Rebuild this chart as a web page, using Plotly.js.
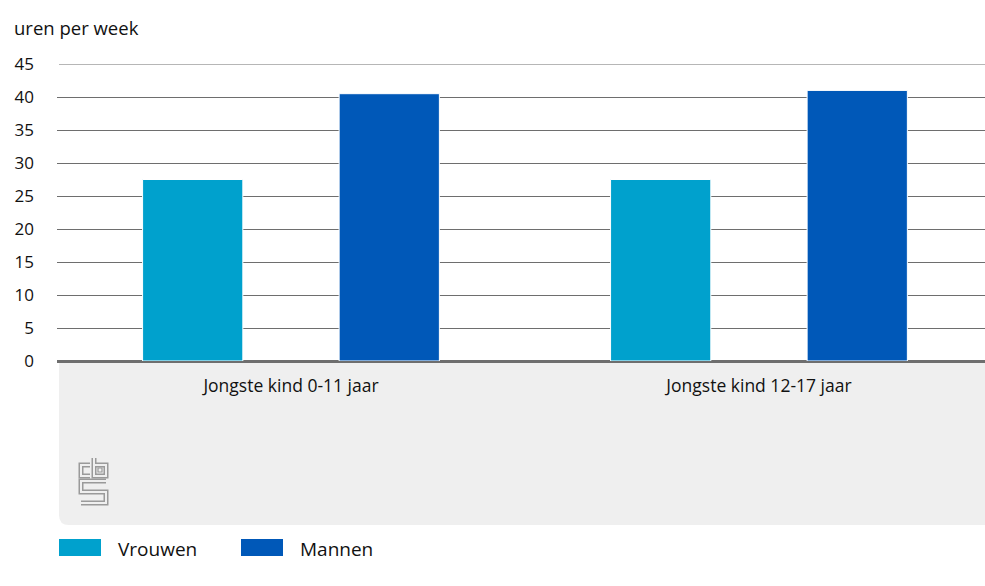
<!DOCTYPE html>
<html>
<head>
<meta charset="utf-8">
<script src="https://cdn.plot.ly/plotly-3.0.1.min.js"></script>
<style>
  html, body { margin: 0; padding: 0; background: #ffffff; overflow: hidden; }
  #chart { width: 985px; height: 586px; }
</style>
</head>
<body>
<div id="chart"></div>
<script>
// ---- data ----
const categories = ["Jongste kind 0-11 jaar", "Jongste kind 12-17 jaar"];
const vrouwen = [27.5, 27.5];
const mannen = [40.5, 41.0];
const seriesNames = ["Vrouwen", "Mannen"];
const yTicks = [0, 5, 10, 15, 20, 25, 30, 35, 40, 45];
const unitLabel = "uren per week";

// ---- styling ----
const colors = ["#00A1CD", "#0058B8"];
const FONT = "Open Sans, Noto Sans, sans-serif";
const W = 985, H = 586;
const L = 57, R = 985, T = 64, B = 361;   // plot area in pixels

// helpers for decoration shapes (pixel -> paper)
const px = x => (x - L) / (R - L);
const py = y => (B - y) / (B - T);

const traces = [
  {
    type: "bar", name: seriesNames[0], x: categories, y: vrouwen,
    marker: { color: colors[0], line: { color: "#ffffff", width: 1 } },
    showlegend: false, hoverinfo: "x+y+name"
  },
  {
    type: "bar", name: seriesNames[1], x: categories, y: mannen,
    marker: { color: colors[1], line: { color: "#ffffff", width: 1 } },
    showlegend: false, hoverinfo: "x+y+name"
  }
];

// gray box under the axis, rounded bottom-left corner
const gx0 = 59, gx1 = 1000, gy0 = 362, gy1 = 525, rr = 10;
const boxPath = `M ${px(gx0)},${py(gy0)} L ${px(gx1)},${py(gy0)} L ${px(gx1)},${py(gy1)} ` +
  `L ${px(gx0 + rr)},${py(gy1)} Q ${px(gx0)},${py(gy1)} ${px(gx0)},${py(gy1 - rr)} Z`;

// cbs logo (outlined strokes)
function pth(points) {
  return points.map((p, i) => (i ? "L " : "M ") + px(p[0]) + "," + py(p[1])).join(" ");
}
const logoParts = [
  [[90, 465], [81, 465], [81, 476], [90, 476]],            // c
  [[94, 458], [94, 476], [106, 476], [106, 465], [94, 465]], // b
  [[106, 481], [81, 481], [81, 492], [106, 492], [106, 503], [81, 503]] // S
];
const logoShapes = [];
logoParts.forEach(p => {
  logoShapes.push({ type: "path", xref: "paper", yref: "paper", path: pth(p),
    line: { color: "#9a9a9a", width: 5 }, layer: "above" });
});
logoParts.forEach(p => {
  logoShapes.push({ type: "path", xref: "paper", yref: "paper", path: pth(p),
    line: { color: "#efefef", width: 2 }, layer: "above" });
});
logoShapes.push({ type: "rect", xref: "paper", yref: "paper",
  x0: px(98), x1: px(102), y0: py(472), y1: py(468),
  line: { color: "#9a9a9a", width: 1.2 }, fillcolor: "rgba(0,0,0,0)", layer: "above" });

// top gridline (at the range edge)
const topGrid = { type: "line", xref: "paper", yref: "y", x0: px(59), x1: 1, y0: 45, y1: 45,
  line: { color: "#6e6e6e", width: 1 }, layer: "below" };

// custom legend
const legShapes = [], legAnn = [];
const legX = [59, 241];
seriesNames.forEach((n, i) => {
  legShapes.push({ type: "rect", xref: "paper", yref: "paper",
    x0: px(legX[i]), x1: px(legX[i] + 42), y0: py(556), y1: py(539),
    fillcolor: colors[i], line: { width: 0 } });
  legAnn.push({ xref: "paper", yref: "paper", x: px(legX[i] + 57), y: py(549),
    xanchor: "left", yanchor: "middle", showarrow: false, text: n,
    font: { family: FONT, size: 19, color: "#111111" } });
});

const layout = {
  width: W, height: H,
  margin: { l: L, r: W - R, t: T, b: H - B, pad: 0 },
  paper_bgcolor: "#ffffff", plot_bgcolor: "rgba(0,0,0,0)",
  font: { family: FONT, size: 17, color: "#111111" },
  barmode: "group", bargap: 0.16, bargroupgap: 0.49,
  xaxis: {
    type: "category", range: [-0.5, 1.483], fixedrange: true,
    showgrid: false, zeroline: false, showline: false,
    ticks: "", ticklabelstandoff: 12,
    tickfont: { family: FONT, size: 17.5, color: "#111111" }
  },
  yaxis: {
    range: [0, 45], tickvals: yTicks, ticktext: yTicks.map(String),
    showgrid: true, gridcolor: "#6e6e6e", gridwidth: 1,
    zeroline: true, zerolinecolor: "#6e6e6e", zerolinewidth: 3,
    showline: false, ticks: "", ticklabelstandoff: 22,
    tickfont: { family: FONT, size: 17, color: "#111111" }, fixedrange: true
  },
  shapes: [
    { type: "path", xref: "paper", yref: "paper", path: boxPath,
      fillcolor: "#efefef", line: { width: 0 }, layer: "below" },
    topGrid
  ].concat(logoShapes, legShapes),
  annotations: [
    { xref: "paper", yref: "paper", x: px(12), y: py(27), xanchor: "left", yanchor: "middle",
      showarrow: false, text: unitLabel, font: { family: FONT, size: 18.5, color: "#111111" } }
  ].concat(legAnn)
};

Plotly.newPlot("chart", traces, layout, { displayModeBar: false, staticPlot: true });
</script>
</body>
</html>
